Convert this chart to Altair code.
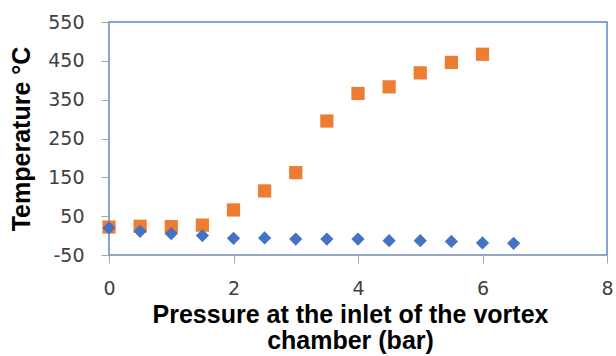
import altair as alt
import pandas as pd

pressure_hot = [0, 0.5, 1, 1.5, 2, 2.5, 3, 3.5, 4, 4.5, 5, 5.5, 6]
temp_hot = [22, 24, 23, 27, 66, 115, 162, 295, 366, 383, 419, 446, 467]
pressure_cold = [0, 0.5, 1, 1.5, 2, 2.5, 3, 3.5, 4, 4.5, 5, 5.5, 6, 6.5]
temp_cold = [20, 11, 5, 0, -7, -6, -9, -9, -9, -13, -13, -15, -19, -20]
x_ticks = [0, 2, 4, 6, 8]
y_ticks = [-50, 50, 150, 250, 350, 450, 550]

rows = [{"p": p, "t": t, "s": "Hot"} for p, t in zip(pressure_hot, temp_hot)]
rows += [{"p": p, "t": t, "s": "Cold"} for p, t in zip(pressure_cold, temp_cold)]
df = pd.DataFrame(rows)

label_font = "DejaVu Sans"
title_font = "Liberation Sans"

chart = alt.Chart(df).mark_point(filled=True, opacity=1, size=175).encode(
    x=alt.X("p:Q", scale=alt.Scale(domain=[0, 8], nice=False),
            axis=alt.Axis(values=x_ticks, title=["Pressure at the inlet of the vortex", "chamber (bar)"],
                          grid=False, domainColor="#a6a6a6", tickColor="#a6a6a6", tickSize=8,
                          labelFlush=False, labelExpr="'' + datum.value",
                          labelFont=label_font, labelFontSize=19, labelColor="#404040", labelPadding=16,
                          titleFont=title_font, titleFontSize=25, titleFontWeight="bold", titleColor="#000000",
                          titlePadding=4, titleLineHeight=26, titleX=241)),
    y=alt.Y("t:Q", scale=alt.Scale(domain=[-50, 550], nice=False, zero=False),
            axis=alt.Axis(values=y_ticks, title="Temperature °C",
                          grid=False, domain=False, tickColor="#a6a6a6", tickSize=8,
                          labelFlush=False, labelExpr="'' + datum.value",
                          labelFont=label_font, labelFontSize=19, labelColor="#404040", labelPadding=17,
                          titleFont=title_font, titleFontSize=25, titleFontWeight="bold", titleColor="#000000",
                          titlePadding=13)),
    color=alt.Color("s:N", scale=alt.Scale(domain=["Hot", "Cold"], range=["#ED7D31", "#4472C4"]), legend=None),
    shape=alt.Shape("s:N", scale=alt.Scale(domain=["Hot", "Cold"], range=["square", "diamond"]), legend=None),
).properties(
    width=498, height=233,
    autosize=alt.AutoSizeParams(type="none"),
    padding={"left": 109, "top": 22, "right": 9, "bottom": 101},
).configure_view(stroke="#5b87c9", strokeWidth=1.5)

chart.save("out.html", embed_options={"renderer": "svg", "actions": False})
